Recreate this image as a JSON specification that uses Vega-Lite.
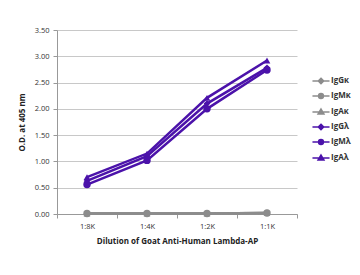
{
  "$schema": "https://vega.github.io/schema/vega-lite/v6.json",
  "width": 240,
  "height": 184,
  "autosize": {"type": "none"},
  "padding": {"left": 57, "top": 30, "right": 63, "bottom": 61},
  "background": "white",
  "config": {
    "font": "Open Sans",
    "view": {"stroke": null},
    "axis": {
      "labelFont": "Open Sans",
      "titleFont": "Open Sans",
      "labelFontSize": 7.5,
      "titleFontSize": 8,
      "labelColor": "#333333",
      "titleColor": "#222222",
      "titleFontWeight": "bold",
      "domainColor": "#999999",
      "tickColor": "#999999",
      "gridColor": "#c8c8c8",
      "tickSize": 4
    }
  },
  "data": {
    "values": [
      {"dilution": "1:8K", "series": "IgGκ", "od": 0.01},
      {"dilution": "1:4K", "series": "IgGκ", "od": 0.01},
      {"dilution": "1:2K", "series": "IgGκ", "od": 0.01},
      {"dilution": "1:1K", "series": "IgGκ", "od": 0.02},
      {"dilution": "1:8K", "series": "IgMκ", "od": 0.01},
      {"dilution": "1:4K", "series": "IgMκ", "od": 0.01},
      {"dilution": "1:2K", "series": "IgMκ", "od": 0.01},
      {"dilution": "1:1K", "series": "IgMκ", "od": 0.02},
      {"dilution": "1:8K", "series": "IgAκ", "od": 0.01},
      {"dilution": "1:4K", "series": "IgAκ", "od": 0.01},
      {"dilution": "1:2K", "series": "IgAκ", "od": 0.01},
      {"dilution": "1:1K", "series": "IgAκ", "od": 0.02},
      {"dilution": "1:8K", "series": "IgGλ", "od": 0.63},
      {"dilution": "1:4K", "series": "IgGλ", "od": 1.1},
      {"dilution": "1:2K", "series": "IgGλ", "od": 2.1},
      {"dilution": "1:1K", "series": "IgGλ", "od": 2.78},
      {"dilution": "1:8K", "series": "IgMλ", "od": 0.56},
      {"dilution": "1:4K", "series": "IgMλ", "od": 1.02},
      {"dilution": "1:2K", "series": "IgMλ", "od": 2.0},
      {"dilution": "1:1K", "series": "IgMλ", "od": 2.74},
      {"dilution": "1:8K", "series": "IgAλ", "od": 0.7},
      {"dilution": "1:4K", "series": "IgAλ", "od": 1.15},
      {"dilution": "1:2K", "series": "IgAλ", "od": 2.21},
      {"dilution": "1:1K", "series": "IgAλ", "od": 2.92}
    ]
  },
  "encoding": {
    "x": {
      "field": "dilution",
      "type": "nominal",
      "sort": ["1:8K", "1:4K", "1:2K", "1:1K"],
      "scale": {"type": "band", "paddingInner": 0, "paddingOuter": 0},
      "axis": {"title": "Dilution of Goat Anti-Human Lambda-AP", "labelAngle": 0, "tickBand": "extent", "labelPadding": 4, "titlePadding": 8}
    },
    "y": {
      "field": "od",
      "type": "quantitative",
      "scale": {"domain": [0, 3.5], "nice": false},
      "axis": {"title": "O.D. at 405 nm", "format": ".2f", "values": [0, 0.5, 1, 1.5, 2, 2.5, 3, 3.5], "labelPadding": 4, "titlePadding": 8}
    },
    "color": {
      "field": "series", "type": "nominal",
      "scale": {"domain": ["IgGκ", "IgMκ", "IgAκ", "IgGλ", "IgMλ", "IgAλ"], "range": ["#8c8c8c", "#8c8c8c", "#8c8c8c", "#4b12aa", "#4b12aa", "#4b12aa"]},
      "legend": {
        "title": null,
        "orient": "none",
        "legendX": 258,
        "legendY": 45,
        "symbolSize": 90,
        "rowPadding": 3,
        "labelOffset": 4,
        "labelFont": "Open Sans",
        "labelFontSize": 8,
        "labelFontWeight": "bold",
        "labelColor": "#333333",
        "symbolOpacity": 1,
        "symbolStrokeWidth": 1.6,
        "encode": {
          "symbols": {
            "update": {
              "shape": {"signal": "substring(datum.value, 2, 3) == 'M' ? 'M-1.8,0H1.8M-0.5,0A0.5,0.5 0 1,0 0.5,0A0.5,0.5 0 1,0 -0.5,0Z' : substring(datum.value, 2, 3) == 'A' ? 'M-1.8,0H1.8M0,-0.6L0.6,0.4L-0.6,0.4Z' : 'M-1.8,0H1.8M0,-0.55L0.55,0L0,0.55L-0.55,0Z'"},
              "stroke": {"signal": "substring(datum.value, 3, 4) == 'κ' ? '#8c8c8c' : '#4b12aa'"},
              "fill": {"signal": "substring(datum.value, 3, 4) == 'κ' ? '#8c8c8c' : '#4b12aa'"},
              "opacity": {"value": 1},
              "strokeWidth": {"value": 1.6}
            }
          }
        }
      }
    }
  },
  "layer": [
    {
      "mark": {"type": "line", "strokeWidth": 2.5}
    },
    {
      "transform": [{"filter": "substring(datum.series, 2, 3) == 'G'"}],
      "mark": {"type": "point", "filled": true, "opacity": 1, "size": 45, "shape": "diamond"}
    },
    {
      "transform": [{"filter": "substring(datum.series, 2, 3) == 'A'"}],
      "mark": {"type": "point", "filled": true, "opacity": 1, "size": 45, "shape": "triangle-up"}
    },
    {
      "transform": [{"filter": "substring(datum.series, 2, 3) == 'M'"}],
      "mark": {"type": "point", "filled": true, "opacity": 1, "size": 55, "shape": "circle"}
    }
  ]
}
